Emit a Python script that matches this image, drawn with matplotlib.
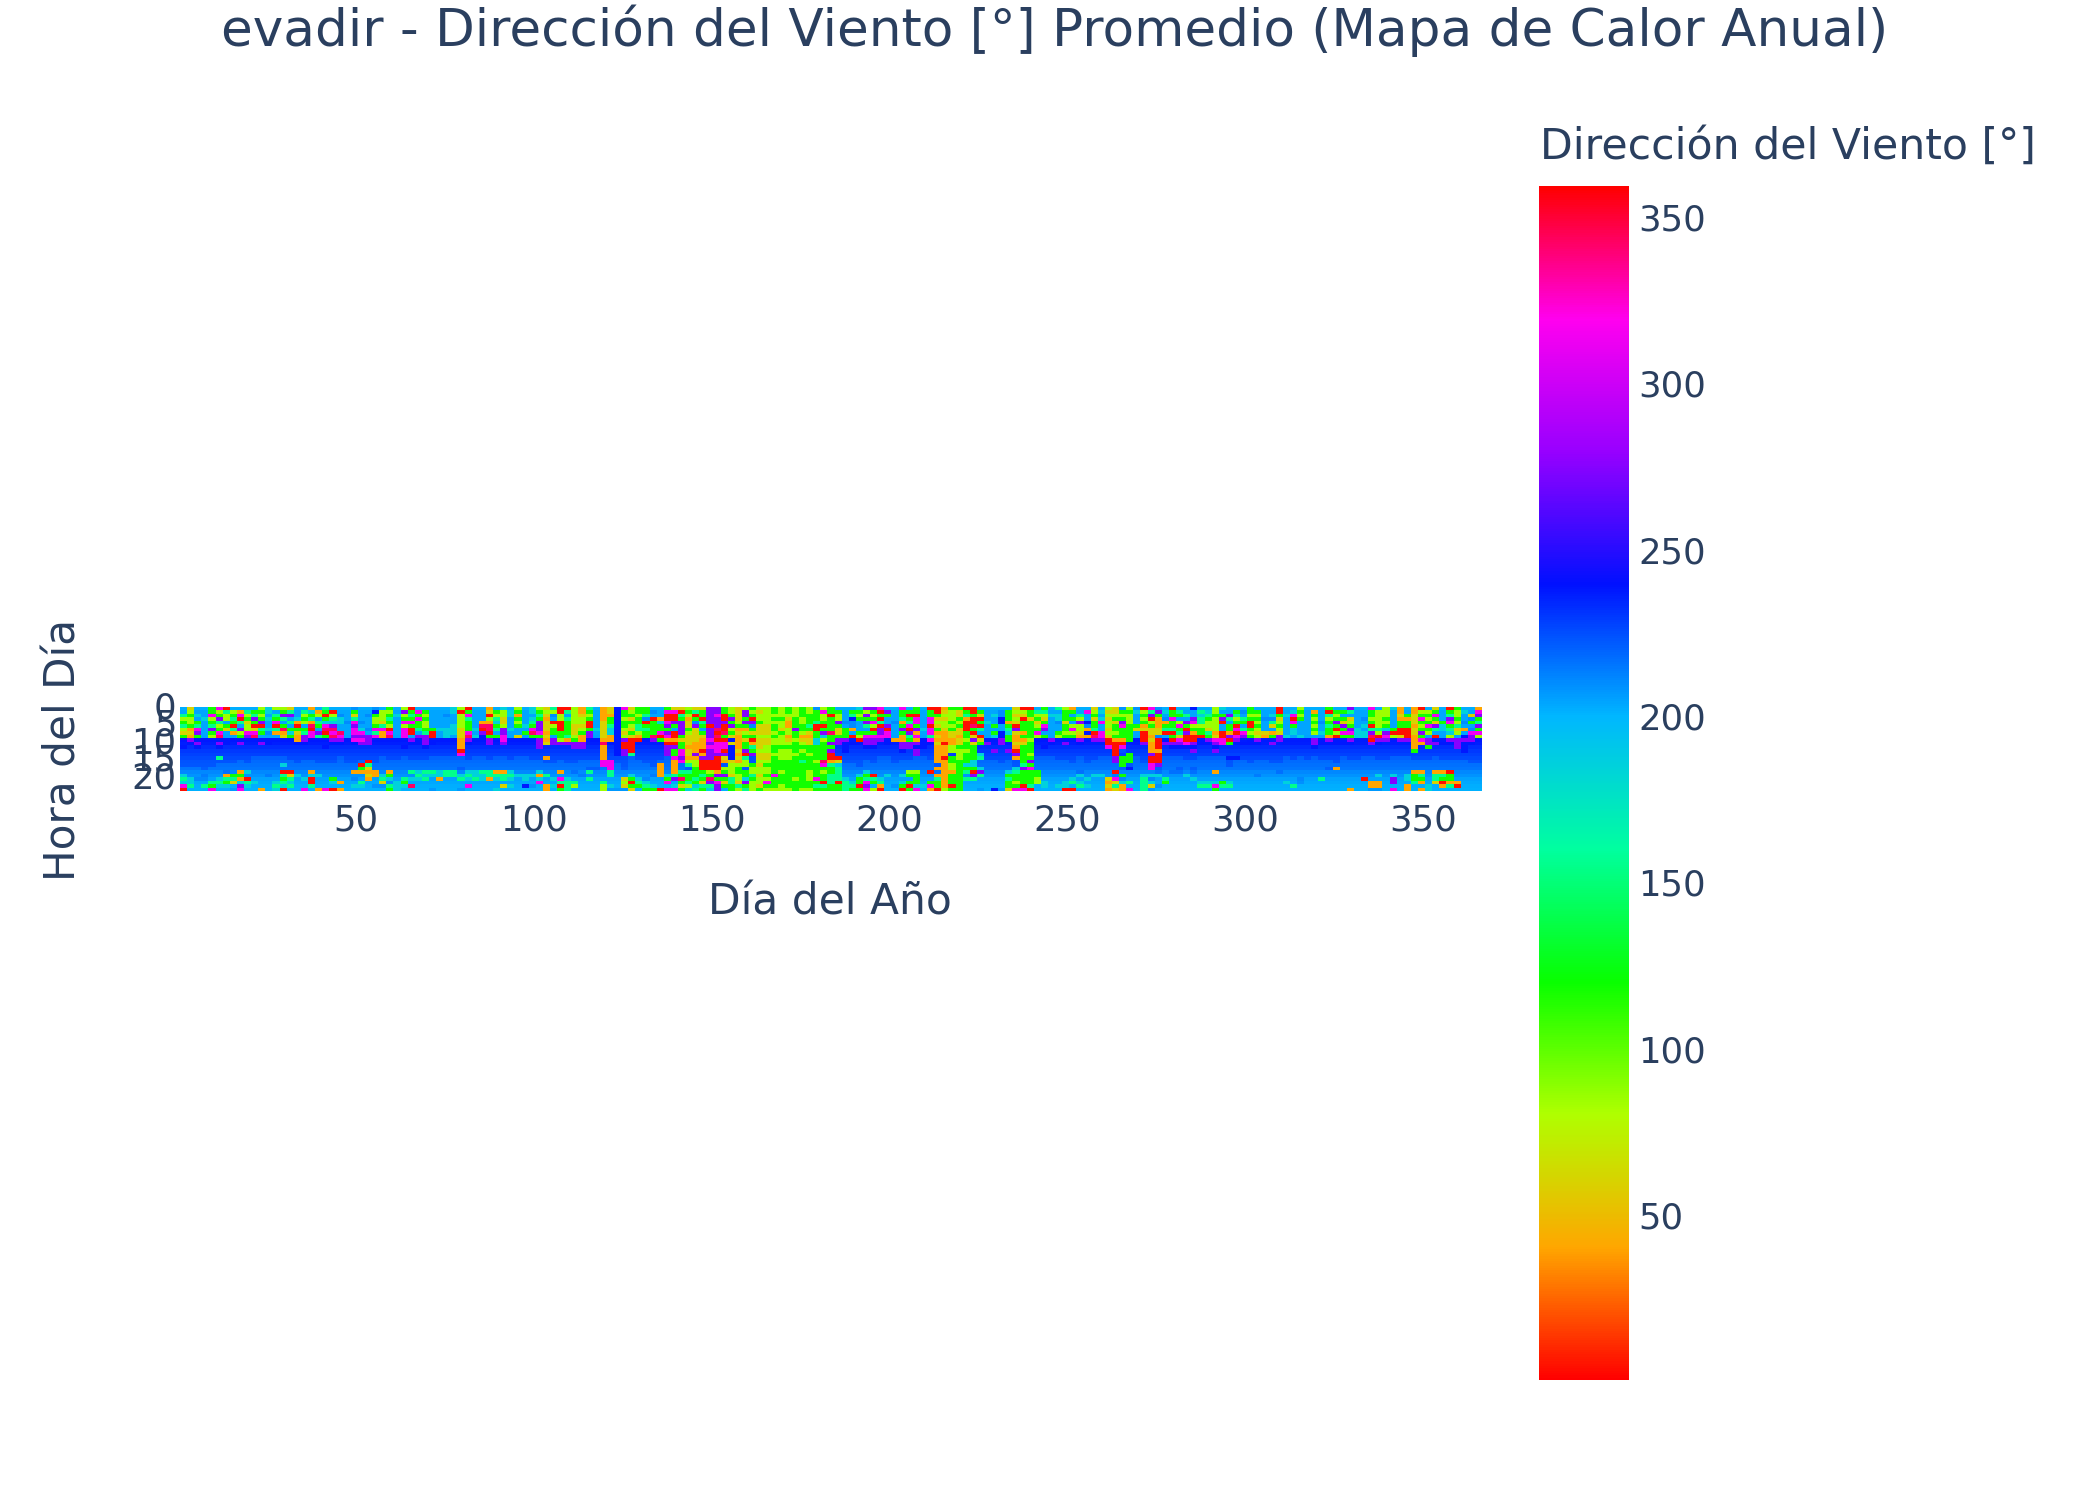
import numpy as np
import matplotlib
matplotlib.use("Agg")
import matplotlib.pyplot as plt
from matplotlib.colors import LinearSegmentedColormap
from matplotlib.transforms import ScaledTranslation

# direccion media estimada por letra (grados)
grados = {"r": 4, "o": 40, "y": 60, "l": 85, "g": 118, "s": 155, "c": 185,
          "d": 238, "v": 275, "p": 315, "k": 342}
# el fondo azul cambia con la hora: a y b se leen respecto a este nivel
azul_por_hora = [205, 207, 207, 207, 207, 207, 207, 207, 208, 234, 233, 230,
                 227, 225, 223, 221, 220, 218, 214, 211, 208, 206, 205, 204]
azul_claro = {"a": -3, "b": 3}

# una fila por cada bloque de dos dias, horas 0-8 / 9-11 / 12-17 / 18-23
bloques = [
    "aaslgslyg dbd bbbbba acscpr", "ylgllgoyo vdb bbbbba aaccsa", "aacagspvg dvd bbbbba aabaaa",
    "aaacaaaaa dbb bbbbbb abbasa", "ggplgsvgl dbb bbbbba aaasgp", "plgvslgpk dvd bbsbaa aacsca",
    "rsllagyaa ddb bbbbaa bosgca", "algsgrsoa dbb bbbbaa agsyab", "aoprsavlg dvb bbbaaa ogocvp",
    "aslgyllpv dbb bbbbaa carsca", "agsvgrypk dbb bbaaaa aaacaa", "lglgvrsga dvb bbaaaa aaaaao",
    "ccacaacba ddb bbaaaa abaaaa", "lasgprsoa dbb bbaaaa aaacsc", "lgvsagkoy dbb bbaaca rsgscr",
    "ysvasagcg dbb bbbaaa ryscsa", "aaacorgyo odb bbbbaa acaaaa", "aslglagsv vdb bbbaaa aacaap",
    "ocgsokrpp dbb bbbaaa ocrrsa", "aolasgavs dbb bbbbaa acaaao", "sgrgcpkrg dbd bbbbaa aaaaap",
    "arlscvkpk vdb bbbbaa aagcar", "aabccaakp vdb bbaaaa aaaoao", "aaaabaaaa dbb bbbbaa aaaaaa",
    "bgyspvppv pdb bbbbaa oabaca", "aaaabacpv pvb bbbarg oaasca", "aabaaabav vvb bbbrsy oyoaaa",
    "bdgllgpsp dbb bbbbaa ooaaba", "alllyspoo dbb bbaaaa acsyba", "glgsglrpk dbb bbbaaa ogcbsg",
    "aacaaaaaa dbb bbbaaa aaaccc", "lvlgplppp dbd bbaaaa aasgca",
    "rgsgpgrra vdb bbbaaa sacaka", "apgpggsav ddb bbbaaa cscaaa", "aglgllgsv vvd bbbaaa scsaaa",
    "aaaaaagrr ddb bbaaaa scaaab", "aaaaaacaa dbb bbaaaa ccoaaa", "aabaaaccc dbb bbaaaa ssaaaa",
    "ccaaaccca dbb bbaaaa ssaaaa", "lrllllyyy ooo rpaaab acsaab", "rgpsgggpk vdb bbbaaa cscapa",
    "aaaaaacac dbb bbaaaa ccsaaa", "aaaaokrvd dbb bbaaaa sccaaa", "oyrlokkrg vvb bbbaaa ssoaaa",
    "aglscgsag dbb bbaaaa oscaac", "cllyylvvp pvb bbaaaa ossaya", "accaaacaa dbb bbbaaa cscaca",
    "lgoglgaay dbb bbaaaa acaaaa", "aaaaacaga dbb bbaaaa accada", "ccacsgpkg dbb bbbaaa acaaba",
    "lgsgvvvpg vvv bbbaaa cocpaa", "ylyoyyyoy oyb bbobaa asaaoo", "slbarlgga vvb bbbbaa aacaca",
    "rrllrrrgg lvb bbbaaa oapsrg", "rsasggggs ovb bbbbaa aacsss", "lllllyyyl gvv bbbbaa baasla",
    "ooyllylgo ovv bbbaaa abaaaa", "sglgrrgvv dbb bbbaab sasaaa", "aaaaaacaa dbb bbbaab aaaaaa",
    "ooooyyyyy oko oooppa aaasll", "yyoggscco odb bbbppp ssaacb", "ddddddddd ddd ddbbaa aaaaab",
    "pgglgglyl vrr vvbbbb aaylyb",
    "ylgyglygy rrr rsaaaa acgrgy", "gglggsslo rbb bbbaaa aacsga", "ggsbrgsgg dbb bbbbaa aabcsg",
    "abarggggk vbb bbbbba abaacg", "aaaocggpr gbb bbbaoo ooaaar", "gprrpvgvp orv vvaaaa acgpap",
    "yprrvgarr orv ggpooo osvacp", "yrsgvvvvg ygg ppvpaa sgkgyg", "lgloyygly yyo yyolsb sggslc",
    "ysrgbvyyy yoo ovollg ggsgcs", "yggrsgagy ooo rovrrr gsgysg", "vvvvvrvvv pvp vvvrrr lgkvsc",
    "vvpvvvkrk rpp pvrrrr ovgpvv", "ggrrvrrkg rpp rvyobl gvgyga", "llgvgvlgy dyd dddyll lyssgg",
    "yyyylgoyo ooo yoyolg gllysl", "lvvgvgolg ygg vrsllb ggcvgs", "glgrvbgyg ros gvbbgl lsglll",
    "lyllgyyyl yyy lyylyl lyllyg", "lllllyyyl yyl lyylgl lglpgl", "gglglgglg llg glgggg gpgggl",
    "lllgllygl llg lllggg lgggll", "gglyoollo ylg lllggg gggggl", "lllgggvgg lgg glgggg gglggg",
    "gggllgglo ylg lggsgg gggggl", "llgggsgyo yyg glgggg lllggl", "bgggsrrgg ccg ggglgg ggpgsg",
    "lpllgrgvc lgg gggkpg lggrsg", "ggrggggkg gvg vrrosg gsssgg", "agllvgyyg vvb bbrycs sssrgg",
    "aaaabaggg vdd dbbbaa aacsss", "agsdbboar bdb bbbbaa aaacsg", "cglgaaagl rdb bbbbba acggrg",
    "vlvgvsagp vvd bbbaaa cgspvp", "vglgplrgp vvd bbbbaa arsgal", "prgrsrvvp vbb bbaaaa aacsor",
    "avgaavrpp ddb bbaaaa acaaaa", "aaaabaaaa obb bbbbaa aaaaba", "pggsogvgo ovv dbbaaa acacgr",
    "agrgsprvs gvv bbbaaa lgagrg", "ggrppgvop ovd vvaaaa lgggcp", "aaaaaacaa ddd bbaaaa aaaaca",
    "rggpprpps pdb bbbaaa raagpo", "rrgylygoy oyo oooobo bosggr", "oylyllyoo oro oorooo oooool",
    "glllglgyy ool lbggll ogggrg", "gyyglgyyo yyg lllggg gggggg", "rgsorrrgg lgg lgggcg sasaaa",
    "rrgrrkgry vyg gggccg rvsaaa", "agyrgrsar ygb bcsaac vsaaab", "aaaacaaaa bvb bbbaaa aaaaaa",
    "aacaagagc bbb vbbaaa aaaaad", "abbddaadd vvb bbbbaa aaaaab", "agggogscg gbb vbbaaa cgsggy",
    "ylylyrvyo oyo rvobbc sgglgp", "rlyrgggog oyg ggggsv ggggrp", "rggyggggg lgg glgvgp ggggsr",
    "aslgylgpl dbb bbaaaa ggllaa", "gslygpvag dbd bbaaaa aaacca", "aacaaaaaa vdb bbaaaa aaaaaa",
    "saccbaagl dbb bbbaaa aaaaca", "lgggygglg dvb bbbaaa aaaccr", "ogagalplg dbb bbbbaa aacsar",
    "aaslvllyo vdb bbaaaa bcacsa", "apaadbodo dbb bbbbaa aacaca",
    "ylgyggsrk vbb bbbaaa acaaaa", "acacpaapp vbb bbaaaa acaaaa", "lylyllyly rrp bbaaaa aayoyo",
    "yylgygglg orr rrvvaa rbpysy", "bglgvpggg orp abgggb agbcoo", "lglllgggg gbb bgggbd aaasap",
    "bcaaagyaa dbb bbaaaa aaaaaa", "rlglgoyrr rvb bbbbaa acssss", "psvrlgyyo yoo ovrrpp acbcyb",
    "bvgoooyyb rrr orrrvb bcaaba", "acabogsra dvb bbaaaa aasgaa", "rggpggsrg rvd bbaaaa baaaaa",
    "asgalpgsy pvd bbaaab baaaaa", "aasavgrvr rpd bbbaaa acaaaa", "daavplgor rvd vbbaab bacaaa",
    "ascsslggr ddb bbaaaa aaacsa", "acsgllysg vdb bbaaaa aaacsa", "llglllloy pvd vbaaaa oaacpg",
    "cagvraarr ppb bbaaaa aaagsa", "aavsaggov rgb bbdbba aaacsa", "agslgrprp vbb bbdaaa aaaaaa",
    "abasgaspv bdb bbbaaa aaaaaa", "gglgrrglg ddb bbbbaa aaaaaa", "aglglglyl vdb bbbaaa abaaaa",
    "aaabaaayo bbb bbbaaa aaaaaa", "aacbsyaog bvb bbbbaa aaaaaa", "rrgylglyv vbb bbbbaa baaaaa",
    "aacaaaaac bbb bbaaaa aaacaa", "acprpgcca bbb bbbaaa aaaasa", "lglgaaaac bbb bbaaaa aabbaa",
    "aaaaaaaaa bbb bbbaaa aaaaaa", "aoglglgla vvd bbaaaa aaaaaa", "aaaabaaca ddb bbbaaa aasaaa",
    "grslgsggo vdb bbbaab aaaaaa", "aglgvgrlr ddb bbbbao aaaaaa", "agagyvgpg ddb bbaaaa aaaaaa",
    "vsaylgvpg vdb bbbaaa aaaaao", "aaaaaaccc bbb bbbaaa aaaaaa", "aaabacacc bbb bbaaaa aaraaa",
    "pgglgrsvk rvb bbaaaa aaaoob", "alllllslr vdb bbbaaa acaoob", "lllglgcvp vbb bbbaaa aaaaaa",
    "caaaaagrl bbb bbaaaa acvvap", "ooyoggrry vbb bbaaaa aaaaaa", "aagoggrrr vbb bbaaaa accaoo",
    "ooyyyoyyo ooo gbbaaa oggsaa", "rlgpglgvg pob bbbaaa osgoao", "alglgpgla vvg bbbaaa aaaacc",
    "ygpgyvsar bvb bbaaaa ossyaa", "aaaagccaa bdb bbbaaa osgroa", "rgsvpgscl vdb bbbaaa rggosa",
    "gllglsyla vvv bbbaaa aaaora", "acaabaoad vdd dbbaaa aaaaaa", "aaybgabpv vdb bbbbaa aaaaaa",
    "opvgsvgpl dbb bbbbaa aaaaaa",
]

dias_borde = np.arange(0.5, 367, 2)
horas_borde = np.arange(-0.5, 24, 1)
ticks_x = [50, 100, 150, 200, 250, 300, 350]
ticks_y = [0, 5, 10, 15, 20]
ticks_barra = [50, 100, 150, 200, 250, 300, 350]
colores_hsv = ["#ff0000", "#ffa700", "#afff00", "#08ff00", "#00ff9f",
               "#00b7ff", "#0010ff", "#9700ff", "#ff00ef", "#ff0000"]
z_min, z_max = 0.4, 359.3
azul = "#2a3f5f"
fuente = "DejaVu Sans"

ANCHO, ALTO = 2100, 1500


def caja(x0, y0, x1, y1):
    # pasa pixeles (origen arriba) a fracciones de figura
    return [x0 / ANCHO, 1 - y1 / ALTO, (x1 - x0) / ANCHO, (y1 - y0) / ALTO]


def valor(letra, hora):
    if letra in azul_claro:
        return azul_por_hora[hora] + azul_claro[letra]
    return grados[letra]


plt.rcParams["font.family"] = fuente
fig = plt.figure(figsize=(21, 15), dpi=100, facecolor="white")

matriz = np.array([[valor(c, h) for h, c in enumerate(b.replace(" ", ""))] for b in bloques]).T
mapa = LinearSegmentedColormap.from_list("hsv_plotly", colores_hsv, N=512)

ax = fig.add_axes(caja(180, 707, 1482, 791))
malla = ax.pcolormesh(dias_borde, horas_borde, matriz, cmap=mapa, vmin=z_min, vmax=z_max)
ax.set_xlim(0.5, 366.5)
ax.set_ylim(23.5, -0.5)
ax.set_xticks(ticks_x)
ax.set_yticks(ticks_y)
ax.tick_params(axis="both", length=0, labelsize=25.5, labelcolor=azul)
ax.tick_params(axis="x", pad=9)
ax.tick_params(axis="y", pad=2.5)
subir = ScaledTranslation(0, 3 / 72, fig.dpi_scale_trans)
for etiqueta in ax.get_yticklabels():
    etiqueta.set_transform(etiqueta.get_transform() + subir)
for lado in ax.spines.values():
    lado.set_visible(False)

cax = fig.add_axes(caja(1539, 186, 1629, 1380))
barra = fig.colorbar(malla, cax=cax)
barra.set_ticks(ticks_barra)
barra.outline.set_visible(False)
barra.ax.tick_params(length=0, labelsize=25.5, labelcolor=azul, pad=6.5)

fig.text(1055 / ANCHO, 1 - 31 / ALTO, "evadir - Dirección del Viento [°] Promedio (Mapa de Calor Anual)",
         color=azul, fontsize=37.2, ha="center", va="center")
fig.text(830 / ANCHO, 1 - 902 / ALTO, "Día del Año", color=azul, fontsize=30.5, ha="center", va="center")
fig.text(64 / ANCHO, 1 - 750 / ALTO, "Hora del Día", color=azul, fontsize=30.3, rotation=90,
         ha="center", va="center")
fig.text(1540 / ANCHO, 1 - 147 / ALTO, "Dirección del Viento [°]", color=azul, fontsize=30.7,
         ha="left", va="center")

fig.savefig("out.png", dpi=100)
